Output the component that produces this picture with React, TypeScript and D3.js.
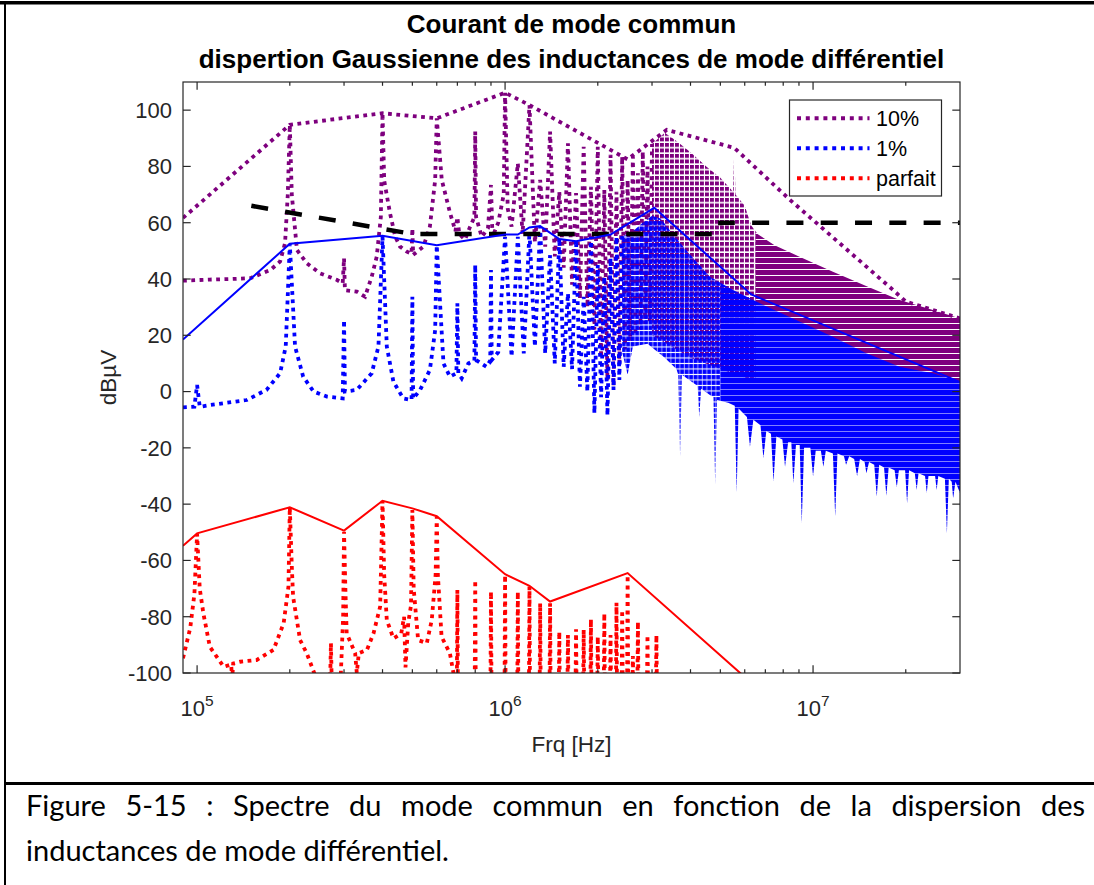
import React, { useLayoutEffect, useRef } from 'react';
import * as d3 from 'd3';

// ---------- texts ----------
const titleLines = ['Courant de mode commun', 'dispertion Gaussienne des inductances de mode différentiel'];
const xLabel = 'Frq [Hz]';
const yLabel = 'dBµV';
const legendLabels = ['10%', '1%', 'parfait'];
const captionLine1 = 'Figure 5-15 : Spectre du mode commun en fonction de la dispersion des';
const captionLine2 = 'inductances de mode différentiel.';

// ---------- ticks ----------
const yTicks = [-100, -80, -60, -40, -20, 0, 20, 40, 60, 80, 100];
const xMajorTicks = [1e5, 1e6, 1e7];
const xTickExponents = ['5', '6', '7'];
const xMinorTicks = [
  2e5, 3e5, 4e5, 5e5, 6e5, 7e5, 8e5, 9e5,
  2e6, 3e6, 4e6, 5e6, 6e6, 7e6, 8e6, 9e6,
  2e7,
];

// ---------- data : [frequency Hz, level dBµV] ----------
// 10 % dispersion (purple, dotted) — resolved part
const purpleLow: [number, number][] = [
  [9e4, 39.4], [1.1e5, 39.8], [1.3e5, 40], [1.49e5, 40.3], [1.73e5, 43.2], [1.86e5, 46.2], [1.93e5, 52.7],
  [1.97e5, 70], [2e5, 94.8], [2.03e5, 70], [2.11e5, 50.3], [2.27e5, 45.6], [2.51e5, 42], [2.84e5, 39.7],
  [2.97e5, 38.5], [3e5, 47.4], [3.02e5, 36], [3.3e5, 35.5], [3.51e5, 33.7], [3.69e5, 40.8], [3.83e5, 47.9],
  [3.95e5, 62], [4e5, 98.9], [4.05e5, 75], [4.23e5, 63.4], [4.4e5, 55], [4.56e5, 51.5], [4.8e5, 49.7],
  [4.97e5, 49], [5e5, 58], [5.03e5, 48.6], [5.43e5, 51.5], [5.7e5, 58.6], [5.93e5, 75.2], [6e5, 97.1],
  [6.23e5, 75.2], [6.63e5, 63.4], [6.9e5, 57], [7e5, 62], [7.1e5, 56], [7.41e5, 54], [7.7e5, 58.6],
  [7.95e5, 62], [8e5, 92.4], [8.05e5, 62], [8.4e5, 55], [8.8e5, 58], [9e5, 73.4], [9.1e5, 55], [9.5e5, 60],
  [9.9e5, 70], [1e6, 106.2], [1.02e6, 65], [1.05e6, 58.6], [1.1e6, 81.1], [1.14e6, 56], [1.2e6, 101.8],
  [1.25e6, 53], [1.3e6, 75.2], [1.35e6, 51.5], [1.4e6, 92.4], [1.45e6, 48], [1.5e6, 71], [1.55e6, 44],
  [1.6e6, 88.2], [1.65e6, 38], [1.7e6, 70.5], [1.75e6, 33], [1.8e6, 87], [1.85e6, 30], [1.9e6, 72.8],
  [1.95e6, 22], [2e6, 87], [2.05e6, 12], [2.1e6, 71.6], [2.15e6, 4], [2.2e6, 84.1], [2.25e6, 2],
  [2.3e6, 71], [2.35e6, 10], [2.4e6, 83.5], [2.45e6, 15], [2.5e6, 75.2], [2.55e6, 18], [2.6e6, 83.5],
  [2.65e6, 20], [2.7e6, 77.6], [2.75e6, 22], [2.8e6, 85.3], [2.85e6, 24], [2.9e6, 80], [2.95e6, 25], [3e6, 88],
];
// 10 % dispersion — dense part (upper / lower edge of the band of harmonics)
const purpleBandTop: [number, number][] = [
  [3e6, 88], [3.3e6, 92], [3.6e6, 89], [4e6, 85], [4.5e6, 80], [5e6, 76], [5.4e6, 72], [5.5e6, 71],
  [5.55e6, 86.6], [5.6e6, 70], [6e6, 66], [6.3e6, 59], [6.6e6, 56], [7.5e6, 52], [9e6, 48], [1.16e7, 42.6],
  [1.5e7, 37.3], [1.9e7, 32.6], [2.45e7, 29], [3e7, 26],
];
const purpleBandBottom: [number, number][] = [
  [3e6, 20], [4e6, 12], [5e6, 8], [6e6, 5], [1e7, -2], [3e7, -8],
];
// 10 % dispersion — peak envelope (purple, dotted)
const purpleEnvelope: [number, number][] = [
  [9e4, 61.7], [2e5, 94.8], [4e5, 98.9], [6e5, 97.1], [1e6, 106.2], [1.2e6, 101.8], [2.5e6, 82.5],
  [3.35e6, 93], [5.55e6, 86.6], [8.4e6, 68.2], [1.81e7, 36.3], [2e7, 32], [3e7, 26],
];

// 1 % dispersion (blue, dotted) — resolved part
const blueLow: [number, number][] = [
  [9e4, -5.6], [9.8e4, -5.4], [1e5, 2.3], [1.02e5, -5.4], [1.1e5, -4.8], [1.45e5, -3], [1.68e5, 0.6],
  [1.86e5, 6.5], [1.94e5, 16], [2e5, 52.5], [2.08e5, 16], [2.21e5, 5.3], [2.39e5, 0], [2.64e5, -1.8],
  [2.97e5, -2.4], [3e5, 25.4], [3.02e5, 0], [3.3e5, 0.6], [3.69e5, 6.5], [3.88e5, 16], [4e5, 55],
  [4.13e5, 16], [4.34e5, 3.5], [4.67e5, -2.4], [4.97e5, -3], [5e5, 33.7], [5.03e5, -2.5], [5.3e5, 0.6],
  [5.7e5, 7.7], [5.93e5, 21.9], [6e5, 52], [6.31e5, 10], [6.62e5, 5.3], [6.95e5, 6.5], [7e5, 31.4],
  [7.05e5, 6.5], [7.23e5, 4.7], [7.6e5, 10], [7.95e5, 11], [8e5, 45], [8.05e5, 11.2], [8.7e5, 8.8],
  [8.95e5, 11], [9e5, 43.2], [9.05e5, 11.2], [9.5e5, 14], [1e6, 55], [1.05e6, 12.4], [1.1e6, 55],
  [1.15e6, 13.6], [1.2e6, 56.8], [1.25e6, 16], [1.3e6, 58.6], [1.35e6, 13.6], [1.4e6, 48.5], [1.45e6, 10],
  [1.5e6, 54.5], [1.55e6, 8.8], [1.6e6, 34.9], [1.65e6, 8], [1.7e6, 53.9], [1.75e6, 1.7], [1.8e6, 33.7],
  [1.85e6, 0], [1.9e6, 55], [1.95e6, -7.7], [2e6, 45], [2.05e6, -2], [2.1e6, 40.8], [2.15e6, -8.5],
  [2.2e6, 47.4], [2.25e6, 0.6], [2.3e6, 55], [2.35e6, 4.1], [2.4e6, 56],
];
// 1 % dispersion — dense part
const blueBandTop: [number, number][] = [
  [2.4e6, 55], [2.6e6, 57], [2.8e6, 60], [3e6, 62.5], [3.2e6, 61.5], [3.5e6, 56], [3.89e6, 50],
  [4.63e6, 40.8], [5.5e6, 36.1], [7.07e6, 30.2], [9.07e6, 24.8], [1.16e7, 19.5], [1.49e7, 13.6],
  [1.91e7, 8.8], [2.45e7, 6.5], [3e7, 3.5],
];
const blueBandBottom: [number, number][] = [
  [2.4e6, 14], [2.5e6, 6], [2.6e6, 16], [2.9e6, 17], [3.3e6, 12], [3.6e6, 8], [3.65e6, 6], [3.7e6, -23],
  [3.75e6, 6], [4.1e6, 3], [4.22e6, 2], [4.27e6, -9], [4.33e6, 1], [4.6e6, -1], [4.75e6, -2], [4.81e6, -33],
  [4.88e6, -3], [5.3e6, -4], [5.57e6, -5], [5.65e6, -36], [5.73e6, -6], [6.1e6, -9], [6.24e6, -19.6],
  [6.4e6, -10], [6.75e6, -12], [6.9e6, -23.7], [7.05e6, -14], [7.3e6, -15], [7.44e6, -32], [7.6e6, -16],
  [7.95e6, -17], [8.11e6, -26.7], [8.3e6, -18], [8.5e6, -18], [8.63e6, -32.6], [8.8e6, -19], [9.05e6, -19],
  [9.19e6, -46.8], [9.35e6, -20], [9.8e6, -20], [1e7, -30.2], [1.02e7, -21], [1.06e7, -21], [1.08e7, -26.7],
  [1.1e7, -21], [1.16e7, -22], [1.18e7, -44.5], [1.2e7, -22], [1.26e7, -23], [1.28e7, -26], [1.31e7, -23],
  [1.36e7, -24], [1.39e7, -30], [1.42e7, -24], [1.47e7, -25], [1.49e7, -29], [1.52e7, -25], [1.58e7, -26],
  [1.61e7, -37.3], [1.64e7, -26], [1.7e7, -27], [1.73e7, -37], [1.76e7, -27], [1.84e7, -28], [1.87e7, -34],
  [1.9e7, -28], [1.99e7, -28], [2.02e7, -39.7], [2.05e7, -28], [2.14e7, -29], [2.17e7, -35], [2.2e7, -29],
  [2.31e7, -30], [2.34e7, -36], [2.37e7, -30], [2.49e7, -30], [2.52e7, -35], [2.55e7, -30], [2.68e7, -31],
  [2.72e7, -50.3], [2.76e7, -31], [2.82e7, -32], [2.85e7, -38], [2.9e7, -32], [3e7, -36],
];
// 1 % dispersion — peak envelope (blue, solid)
const blueEnvelope: [number, number][] = [
  [9e4, 18.5], [2e5, 52.5], [4e5, 55.4], [6e5, 52], [1e6, 55.8], [1.1e6, 55.8], [1.2e6, 58.3], [1.3e6, 58.8],
  [1.5e6, 54.2], [1.7e6, 53.4], [2.2e6, 55.8], [3.05e6, 65.3], [6.3e6, 34.5], [3e7, 3.4],
];

// parfait (red, dotted)
const redLow: [number, number][] = [
  [9e4, -94.8], [9.5e4, -84], [9.8e4, -72], [1e5, -50.6], [1.02e5, -70], [1.048e5, -78.8], [1.1e5, -90.7],
  [1.22e5, -97.8], [1.29e5, -97], [1.3e5, -102], [1.31e5, -96.6], [1.38e5, -96], [1.56e5, -95.4],
  [1.77e5, -91.8], [1.91e5, -82.3], [1.98e5, -69.3], [2e5, -41.1], [2.03e5, -62], [2.05e5, -72.9],
  [2.16e5, -88.3], [2.27e5, -93], [2.42e5, -101], [2.6e5, -106], [2.7e5, -106], [2.72e5, -89.4],
  [2.74e5, -106], [2.92e5, -104], [2.98e5, -80], [3e5, -49.8], [3.03e5, -70], [3.06e5, -85.9],
  [3.26e5, -93], [3.3e5, -100], [3.35e5, -93], [3.56e5, -91.8], [3.74e5, -85.9], [3.93e5, -76.4],
  [4e5, -38.8], [4.05e5, -65], [4.13e5, -81.2], [4.34e5, -87.7], [4.6e5, -86], [4.7e5, -80], [4.75e5, -98],
  [4.85e5, -82], [4.95e5, -76], [5e5, -42.1], [5.05e5, -70], [5.22e5, -88.3], [5.57e5, -89.4],
  [5.78e5, -81.2], [5.95e5, -65], [6e5, -44.5], [6.05e5, -65], [6.22e5, -87.1], [6.62e5, -93],
  [6.85e5, -102], [6.97e5, -106],
];
// parfait — isolated harmonic peaks above 700 kHz: [frequency, peak level]
const redPeaks: [number, number][] = [
  [7e5, -70.5], [8e5, -67], [9e5, -71.1], [1e6, -65.2], [1.1e6, -71.1], [1.2e6, -69.3], [1.3e6, -75.2],
  [1.4e6, -75.2], [1.5e6, -85.3], [1.6e6, -86.5], [1.7e6, -84.5], [1.8e6, -84.7], [1.9e6, -80.9],
  [2e6, -87.1], [2.1e6, -78.8], [2.2e6, -86.5], [2.3e6, -75], [2.4e6, -77.6], [2.5e6, -65.2],
  [2.6e6, -94], [2.7e6, -81.8], [2.9e6, -86.5], [3.1e6, -86.5],
];
const redFloor = -106;
// parfait — peak envelope (red, solid)
const redEnvelope: [number, number][] = [
  [9e4, -54.8], [1e5, -50.4], [2e5, -41.1], [3e5, -49.4], [4e5, -38.8], [5e5, -41.5], [6e5, -44.3],
  [1e6, -64.9], [1.2e6, -69], [1.4e6, -74.6], [2.5e6, -64.5], [5.8e6, -100], [7e6, -108.5],
];

// limit (black, dashed)
const limitLine: [number, number][] = [
  [1.5e5, 66], [5e5, 56], [5e6, 56], [5e6, 60], [3e7, 60],
];

// frequencies where the harmonics merge into a continuous band
const purpleDenseFrom = 6.5e6;
const blueDenseFrom = 5e6;

// ---------- styling ----------
const PURPLE = '#7E007E';
const BLUE = '#0000FF';
const RED = '#FF0000';
const AXIS = '#262626';
const seriesColors = [PURPLE, BLUE, RED];

const W = 1094;
const H = 885;
const PL = 183, PR = 960, PT = 82, PB = 673;
const CAP_LEFT = 26;
const CAP_RIGHT = 1085;

const DOT = '3.8 4.5';
const DOT_W = 3.8;

export default function App() {
  const capRef = useRef<SVGGElement>(null);

  const x = d3.scaleLog().domain([9e4, 3e7]).range([PL, PR]);
  const y = d3.scaleLinear().domain([-100, 110]).range([PB, PT]);
  const line = d3.line<[number, number]>().x((d) => x(d[0])).y((d) => y(d[1]));
  const band = (top: [number, number][], bot: [number, number][]) =>
    (line([...top, ...bot.slice().reverse()]) || '') + 'Z';

  // red polyline: low part + isolated peaks dropping below the axis floor
  const redPts: [number, number][] = [...redLow];
  redPeaks.forEach(([f, v]) => {
    redPts.push([f * 0.996, redFloor], [f, v], [f * 1.004, redFloor]);
  });

  useLayoutEffect(() => {
    const g = capRef.current;
    if (!g) return;
    const words = Array.from(g.querySelectorAll('text.cw')) as SVGTextElement[];
    const widths = words.map((w) => w.getComputedTextLength());
    const total = widths.reduce((a, b) => a + b, 0);
    const gap = (CAP_RIGHT - CAP_LEFT - total) / (words.length - 1);
    let cx = CAP_LEFT;
    words.forEach((w, i) => {
      w.setAttribute('x', String(cx));
      cx += widths[i] + gap;
    });
  }, []);

  const fontAx = 'Liberation Sans, Arial, Helvetica, sans-serif';
  const legX0 = 789.5, legY0 = 100, legW = 152, legH = 96;
  const xSplitP = x(purpleDenseFrom);
  const xSplitB = x(blueDenseFrom);
  const purpleBand = band(purpleBandTop, purpleBandBottom);
  const blueBand = band(blueBandTop, blueBandBottom);

  return (
    <svg
      width={W}
      height={H}
      style={{ position: 'absolute', left: 0, top: 0, background: '#fff' }}
      xmlns="http://www.w3.org/2000/svg"
    >
      <defs>
        <clipPath id="plotClip">
          <rect x={PL} y={PT} width={PR - PL} height={PB - PT} />
        </clipPath>
        <clipPath id="clipSparseP">
          <rect x={PL} y={PT} width={xSplitP - PL} height={PB - PT} />
        </clipPath>
        <clipPath id="clipDenseP">
          <rect x={xSplitP} y={PT} width={PR - xSplitP} height={PB - PT} />
        </clipPath>
        <clipPath id="clipSparseB">
          <rect x={PL} y={PT} width={xSplitB - PL} height={PB - PT} />
        </clipPath>
        <clipPath id="clipDenseB">
          <rect x={xSplitB} y={PT} width={PR - xSplitB} height={PB - PT} />
        </clipPath>
        <pattern id="patPurpleDots" width="5" height="5.5" patternUnits="userSpaceOnUse">
          <rect width="3.9" height="3.9" fill={PURPLE} />
        </pattern>
        <pattern id="patPurple" width="4" height="6" patternUnits="userSpaceOnUse">
          <rect width="4" height="5" fill={PURPLE} />
        </pattern>
        <pattern id="patBlueDots" width="4.5" height="5.5" patternUnits="userSpaceOnUse">
          <rect x="0.5" y="1" width="3.9" height="4.4" fill={BLUE} />
        </pattern>
        <pattern id="patBlue" width="4" height="6" patternUnits="userSpaceOnUse">
          <rect width="4" height="5.5" fill={BLUE} />
        </pattern>
      </defs>

      <rect x={0} y={0} width={W} height={H} fill="#fff" />

      {/* frame of the figure (table cell) */}
      <rect x={0} y={1} width={W} height={3.5} fill="#000" />
      <rect x={4} y={1} width={2} height={H} fill="#000" />
      <rect x={4} y={782} width={W} height={3} fill="#000" />

      {/* title */}
      <g fontFamily={fontAx} fontWeight="bold" fontSize={26} textAnchor="middle" fill="#000">
        <text x={(PL + PR) / 2} y={33}>{titleLines[0]}</text>
        <text x={(PL + PR) / 2} y={68}>{titleLines[1]}</text>
      </g>

      {/* data */}
      <g clipPath="url(#plotClip)" fill="none">
        <g clipPath="url(#clipSparseP)">
          <path d={purpleBand} fill="url(#patPurpleDots)" stroke="none" />
        </g>
        <g clipPath="url(#clipDenseP)">
          <path d={purpleBand} fill="url(#patPurple)" stroke="none" />
        </g>
        <path d={line(purpleLow) || ''} stroke={PURPLE} strokeWidth={DOT_W} strokeDasharray={DOT} />
        <g clipPath="url(#clipSparseB)">
          <path d={blueBand} fill="url(#patBlueDots)" stroke="none" />
        </g>
        <g clipPath="url(#clipDenseB)">
          <path d={blueBand} fill="url(#patBlue)" stroke="none" />
        </g>
        <path d={line(blueLow) || ''} stroke={BLUE} strokeWidth={DOT_W} strokeDasharray={DOT} />
        <path d={line(redPts) || ''} stroke={RED} strokeWidth={DOT_W} strokeDasharray={DOT} />
        <path d={line(purpleEnvelope) || ''} stroke={PURPLE} strokeWidth={DOT_W} strokeDasharray={DOT} />
        <path d={line(limitLine) || ''} stroke="#000" strokeWidth={4.5} strokeDasharray="17 17.3" />
        <path d={line(blueEnvelope) || ''} stroke={BLUE} strokeWidth={2} />
        <path d={line(redEnvelope) || ''} stroke={RED} strokeWidth={2} />
      </g>

      {/* axes box and ticks */}
      <g stroke={AXIS} strokeWidth={1.2} fill="none">
        <rect x={PL} y={PT} width={PR - PL} height={PB - PT} />
        {yTicks.map((t) => (
          <g key={'yt' + t}>
            <line x1={PL} x2={PL + 7.7} y1={y(t)} y2={y(t)} />
            <line x1={PR} x2={PR - 7.7} y1={y(t)} y2={y(t)} />
          </g>
        ))}
        {xMajorTicks.map((t) => (
          <g key={'xt' + t}>
            <line x1={x(t)} x2={x(t)} y1={PB} y2={PB - 7.7} />
            <line x1={x(t)} x2={x(t)} y1={PT} y2={PT + 7.7} />
          </g>
        ))}
        {xMinorTicks.map((t) => (
          <g key={'xm' + t}>
            <line x1={x(t)} x2={x(t)} y1={PB} y2={PB - 3.8} />
            <line x1={x(t)} x2={x(t)} y1={PT} y2={PT + 3.8} />
          </g>
        ))}
      </g>

      {/* tick labels */}
      <g fontFamily={fontAx} fontSize={22} fill={AXIS}>
        {yTicks.map((t) => (
          <text key={'yl' + t} x={PL - 11} y={y(t) + 7.8} textAnchor="end">
            {t}
          </text>
        ))}
        {xMajorTicks.map((t, i) => (
          <text key={'xl' + t} x={x(t)} y={716} textAnchor="middle">
            <tspan>10</tspan>
            <tspan fontSize={15.5} dy={-10}>{xTickExponents[i]}</tspan>
          </text>
        ))}
      </g>

      {/* axis labels */}
      <text x={(PL + PR) / 2} y={752} textAnchor="middle" fontFamily={fontAx} fontSize={22.5} fill={AXIS}>
        {xLabel}
      </text>
      <text
        transform={`translate(116, ${(PT + PB) / 2}) rotate(-90)`}
        textAnchor="middle"
        fontFamily={fontAx}
        fontSize={22.5}
        fill={AXIS}
      >
        {yLabel}
      </text>

      {/* legend */}
      <g>
        <rect x={legX0} y={legY0} width={legW} height={legH} fill="#fff" stroke={AXIS} strokeWidth={1.2} />
        {legendLabels.map((lab, i) => {
          const ly = legY0 + 18.3 + i * 30;
          return (
            <g key={lab}>
              <line
                x1={797}
                x2={869.5}
                y1={ly}
                y2={ly}
                stroke={seriesColors[i]}
                strokeWidth={4}
                strokeDasharray="4 4.8"
              />
              <text x={876} y={ly + 7.8} fontFamily={fontAx} fontSize={21.5} fill="#000">
                {lab}
              </text>
            </g>
          );
        })}
      </g>

      {/* caption */}
      <g ref={capRef} fontFamily="Lato, 'Open Sans', sans-serif" fontSize={29} fill="#000">
        {captionLine1.split(' ').map((w, i) => (
          <text key={'c' + i} className="cw" x={CAP_LEFT} y={816}>
            {w}
          </text>
        ))}
        <text x={CAP_LEFT} y={861}>{captionLine2}</text>
      </g>
    </svg>
  );
}
